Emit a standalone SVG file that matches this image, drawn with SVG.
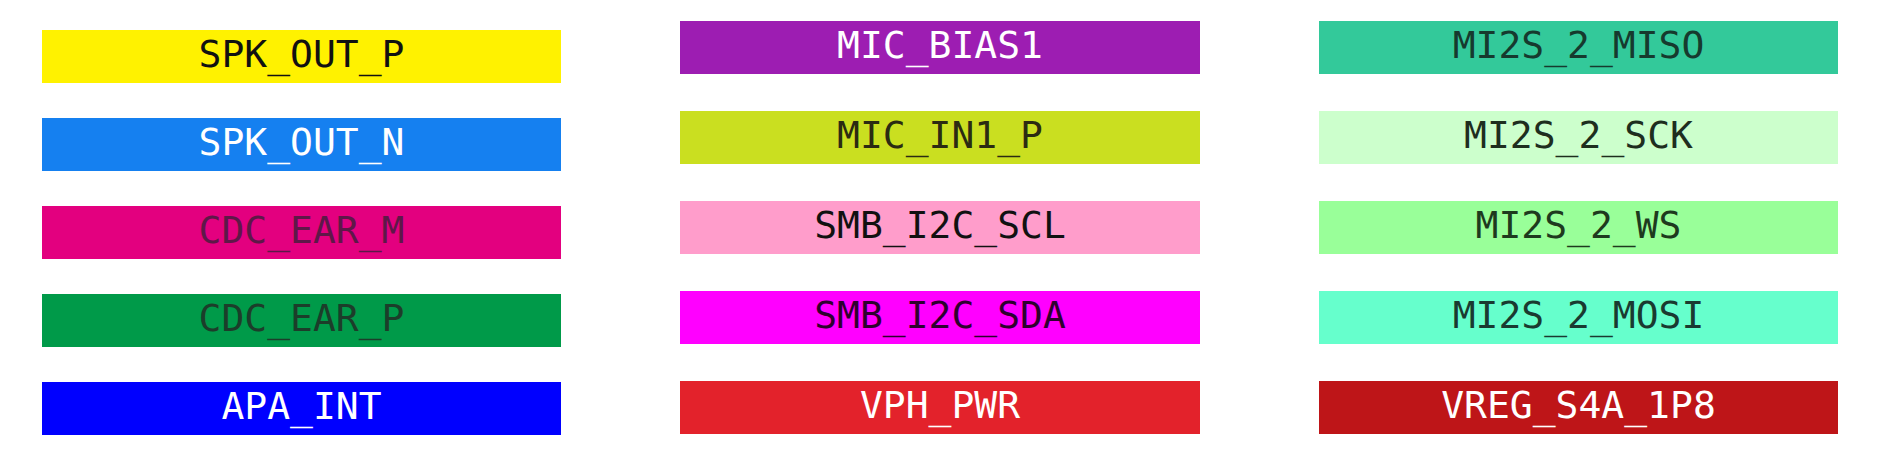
<svg xmlns="http://www.w3.org/2000/svg" width="1888" height="469" viewBox="0 0 1888 469">
<style>
text{font-family:"DejaVu Sans Mono","Liberation Mono",monospace;font-size:38px;text-anchor:middle}
.w{fill:#ffffff}
.k{fill:#111111}
</style>
<rect width="1888" height="469" fill="#ffffff"/>
<g id="spk_out_p"><rect x="42" y="30" width="519" height="53" fill="#fff200"/><text x="301.5" y="67" class="k">SPK_OUT_P</text></g>
<g id="spk_out_n"><rect x="42" y="118" width="519" height="53" fill="#1580f0"/><text x="301.5" y="155" class="w">SPK_OUT_N</text></g>
<g id="cdc_ear_m"><rect x="42" y="206" width="519" height="53" fill="#e3007f"/><text x="301.5" y="243" fill="#5e1848">CDC_EAR_M</text></g>
<g id="cdc_ear_p"><rect x="42" y="294" width="519" height="53" fill="#009a49"/><text x="301.5" y="331" fill="#1c3d2a">CDC_EAR_P</text></g>
<g id="apa_int"><rect x="42" y="382" width="519" height="53" fill="#0000ff"/><text x="301.5" y="419" class="w">APA_INT</text></g>

<g id="mic_bias1"><rect x="680" y="21" width="520" height="53" fill="#9d1db2"/><text x="940" y="58" class="w">MIC_BIAS1</text></g>
<g id="mic_in1_p"><rect x="680" y="111" width="520" height="53" fill="#cadf20"/><text x="940" y="148" fill="#2b2b12">MIC_IN1_P</text></g>
<g id="smb_i2c_scl"><rect x="680" y="201" width="520" height="53" fill="#ff9dcb"/><text x="940" y="238" class="k">SMB_I2C_SCL</text></g>
<g id="smb_i2c_sda"><rect x="680" y="291" width="520" height="53" fill="#ff00ff"/><text x="940" y="328" fill="#2e002e">SMB_I2C_SDA</text></g>
<g id="vph_pwr"><rect x="680" y="381" width="520" height="53" fill="#e3222b"/><text x="940" y="418" class="w">VPH_PWR</text></g>

<g id="mi2s_2_miso"><rect x="1319" y="21" width="519" height="53" fill="#33c99a"/><text x="1578.5" y="58" fill="#163a2e">MI2S_2_MISO</text></g>
<g id="mi2s_2_sck"><rect x="1319" y="111" width="519" height="53" fill="#ccffcc"/><text x="1578.5" y="148" fill="#1e2e1e">MI2S_2_SCK</text></g>
<g id="mi2s_2_ws"><rect x="1319" y="201" width="519" height="53" fill="#99ff99"/><text x="1578.5" y="238" fill="#1e3a1e">MI2S_2_WS</text></g>
<g id="mi2s_2_mosi"><rect x="1319" y="291" width="519" height="53" fill="#66ffcc"/><text x="1578.5" y="328" fill="#1a3a30">MI2S_2_MOSI</text></g>
<g id="vreg_s4a_1p8"><rect x="1319" y="381" width="519" height="53" fill="#be1518"/><text x="1578.5" y="418" class="w">VREG_S4A_1P8</text></g>
<g id="connectors"></g>
</svg>
